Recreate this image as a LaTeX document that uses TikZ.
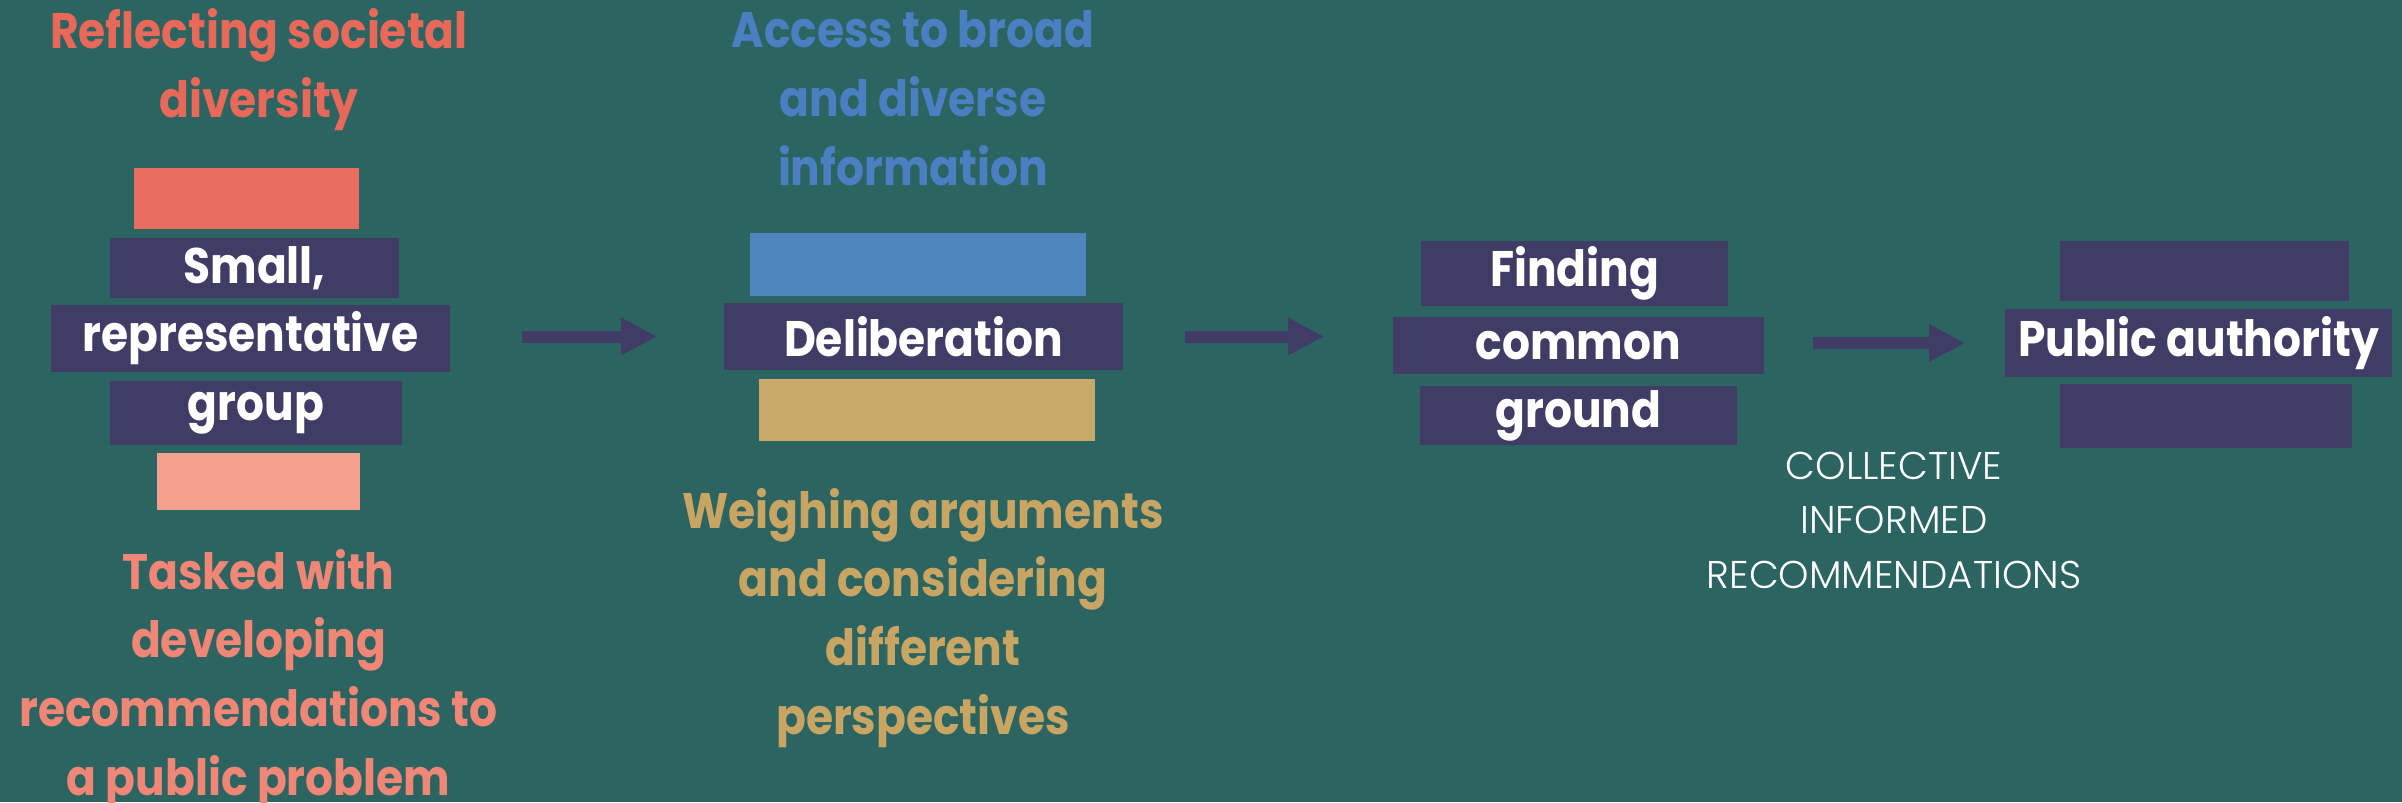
\documentclass[tikz,border=0pt]{standalone}
\usepackage{fontspec}
\setmainfont[FakeStretch=0.88]{Poppins}
\newfontfamily\narrowfont[FakeStretch=0.88]{Poppins}
\newfontfamily\thinfont{Poppins Light}
\usepackage[x11names]{xcolor}
\usetikzlibrary{arrows.meta}

\definecolor{bgteal}{HTML}{2B6461}
\definecolor{boxpurple}{HTML}{403C66}
\definecolor{coral}{HTML}{E96D5E}
\definecolor{peach}{HTML}{F4A08C}
\definecolor{coraltext}{HTML}{E8695A}
\definecolor{peachtext}{HTML}{EF8676}
\definecolor{skyblue}{HTML}{4F86C0}
\definecolor{skytext}{HTML}{4A80C2}
\definecolor{sand}{HTML}{C9A96A}
\definecolor{sandtext}{HTML}{C8A562}

\begin{document}
\begin{tikzpicture}[x=0.01cm, y=-0.01cm, font=\bfseries\fontsize{14.2}{19.5}\selectfont]
                % Background
                \fill[bgteal] (0,0) rectangle (2402,802);
                \useasboundingbox (0,0) rectangle (2402,802);

                % Draw column 1: the group
                \begin{scope}[every node/.style={rectangle,fill=boxpurple,text=white,inner sep=0pt}]
                    \node[fill=coral, minimum width=2.25cm, minimum height=0.61cm] (bar1) at (246.5,198.5) {};
                    \node[minimum width=2.89cm, minimum height=0.60cm] (small) at (254.5,268) {Small,};
                    \node[minimum width=3.99cm, minimum height=0.67cm] (repr) at (250.5,338.5) {representative};
                    \node[minimum width=2.92cm, minimum height=0.64cm] (group) at (256,413) {group};
                    \node[fill=peach, minimum width=2.03cm, minimum height=0.57cm] (bar2) at (258.5,481.5) {};
                \end{scope}
                % text anchors sit on the last line
                \node[anchor=base, align=center, text=coraltext] (diverse) at (259,117) {Reflecting societal\\diversity};
                \node[anchor=base, align=center, text=peachtext] (tasked) at (258.5,795) {Tasked with\\developing\\recommendations to\\a public problem};

                % Draw column 2: deliberation
                \begin{scope}[every node/.style={rectangle,fill=boxpurple,text=white,inner sep=0pt}]
                    \node[fill=skyblue, minimum width=3.36cm, minimum height=0.63cm] (bar3) at (918,264.5) {};
                    \node[minimum width=3.99cm, minimum height=0.67cm] (delib) at (923.5,336.5) {Deliberation};
                    \node[fill=sand, minimum width=3.36cm, minimum height=0.62cm] (bar4) at (927,410) {};
                \end{scope}
                \node[anchor=base, align=center, text=skytext] (access) at (913,185) {Access to broad\\and diverse\\information};
                \node[anchor=base, align=center, text=sandtext] (weigh) at (923,734) {Weighing arguments\\and considering\\different\\perspectives};

                % Draw column 3: common ground
                \begin{scope}[every node/.style={rectangle,fill=boxpurple,text=white,inner sep=0pt,font=\narrowfont\bfseries\fontsize{14.2}{19.5}\selectfont}]
                    \node[minimum width=3.07cm, minimum height=0.65cm] (finding) at (1574.5,273.5) {Finding};
                    \node[minimum width=3.71cm, minimum height=0.57cm] (common) at (1578.5,345.5) {common};
                    \node[minimum width=3.17cm, minimum height=0.59cm] (ground) at (1578.5,415.5) {ground};
                \end{scope}
                \node[anchor=base, align=center, text=white, font=\thinfont\fontsize{11}{15.4}\selectfont] (recs) at (1894,588) {COLLECTIVE\\INFORMED\\RECOMMENDATIONS};

                % Draw column 4: public authority
                \begin{scope}[every node/.style={rectangle,fill=boxpurple,text=white,inner sep=0pt,font=\narrowfont\bfseries\fontsize{14.2}{19.5}\selectfont}]
                    \node[minimum width=2.89cm, minimum height=0.60cm] (patop) at (2204.5,271) {};
                    \node[minimum width=3.87cm, minimum height=0.68cm] (pa) at (2198.5,343) {Public authority};
                    \node[minimum width=2.92cm, minimum height=0.64cm] (pabot) at (2206,416) {};
                \end{scope}

                % Arrows between the steps
                \begin{scope}[boxpurple, line width=0.12cm, -{Triangle[length=0.36cm,width=0.35cm]}]
                    \draw[shorten <=0.71cm, shorten >=0.66cm] (repr.east |- delib.west) -- (delib.west);
                    \draw[shorten <=0.61cm, shorten >=0.68cm] (delib.east) -- (delib.east -| common.west);
                    \draw[shorten <=0.48cm, shorten >=0.39cm] (common.east |- pa.west) -- (pa.west);
                \end{scope}
            \end{tikzpicture}
\end{document}
